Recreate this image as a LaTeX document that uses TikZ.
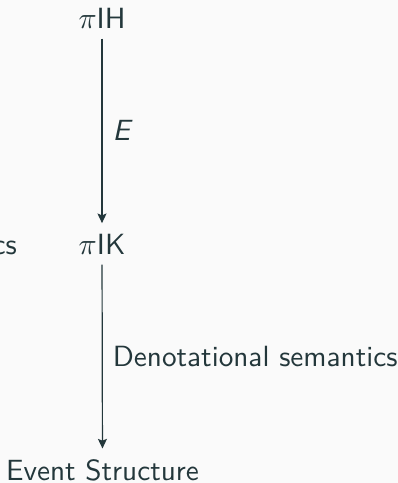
\documentclass[tikz,border=0pt]{standalone}
\usetikzlibrary{arrows.meta}
\definecolor{mDarkTeal}{HTML}{23373B}
\definecolor{mBg}{HTML}{FAFAFA}
\begin{document}
\begin{tikzpicture}[x=0.33333pt,y=-0.33333pt,
  every node/.style={font=\fontsize{9.74}{12}\selectfont\sffamily, text=mDarkTeal, inner sep=3.333pt},
  conn/.style={draw=mDarkTeal, line width=0.4pt, -{Stealth[length=3.2pt,width=3pt,inset=0.6pt]}},
  lbl/.style={midway, right}]
  \fill[mBg] (0,0) rectangle (398,483);
  \useasboundingbox (0,0) rectangle (398,483);
  \node[anchor=base] (IH) at (102,28) {$\pi$IH};
  \node[anchor=base] (IK) at (102,254) {$\pi$IK};
  \node[anchor=base] (ES) at (102.5,480) {Event Structure};
  \node[anchor=base east, inner sep=0pt] (cs) at (17.5,254) {cs};
  \draw[conn] (IH) -- node[lbl] {\textit{E}} (IK);
  \draw[conn] (IK) -- node[lbl] {Denotational semantics} (ES);
\end{tikzpicture}
\end{document}
